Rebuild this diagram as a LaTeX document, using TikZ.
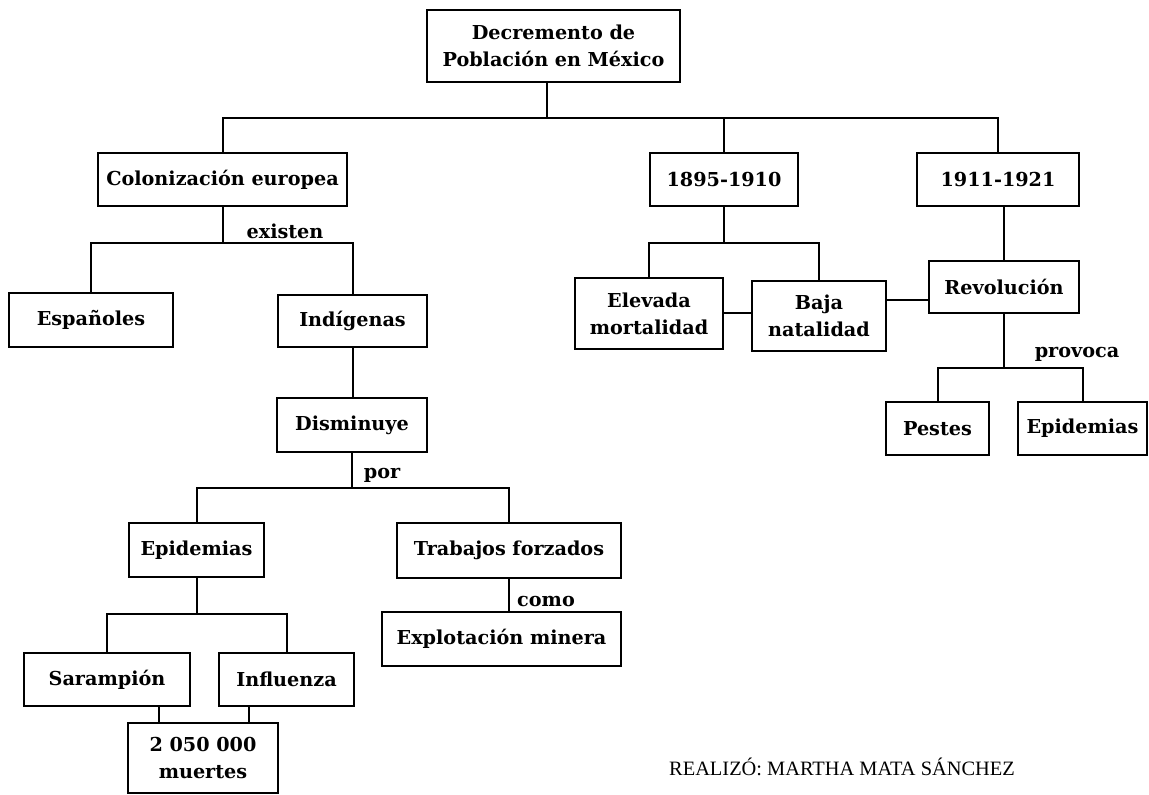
\documentclass[tikz,border=0pt]{standalone}
\usepackage{fontspec}
\setmainfont{DejaVu Serif}
\newfontfamily\creditfont{Liberation Serif}
\usepackage{tikz}

\begin{document}
\begin{tikzpicture}[x=0.5pt, y=0.5pt, line width=1pt,
        box/.style={draw, black, align=center, inner sep=1pt, font=\fontsize{9.6}{13.5}\selectfont\bfseries},
        lbl/.style={inner sep=0pt, font=\fontsize{9.6}{11}\selectfont\bfseries}]
        \useasboundingbox (0,0) rectangle (1149,-795);
        \node [box, minimum width=126.5pt, minimum height=36pt] (root) at (553.5,-46) {Decremento de\\Población en México};
        \node [box, minimum width=124.5pt, minimum height=26.5pt] (colon) at (222.5,-179.5) {Colonización europea};
        \node [box, minimum width=74pt, minimum height=26.5pt] (y1895) at (724,-179.5) {1895-1910};
        \node [box, minimum width=81pt, minimum height=26.5pt] (y1911) at (998,-179.5) {1911-1921};
        \node [box, minimum width=82pt, minimum height=27pt] (esp) at (91,-320) {Españoles};
        \node [box, minimum width=74.5pt, minimum height=26pt] (ind) at (352.5,-321) {Indígenas};
        \node [box, minimum width=75pt, minimum height=27pt] (dism) at (352,-425) {Disminuye};
        \node [box, minimum width=67.5pt, minimum height=27pt] (epi) at (196.5,-550) {Epidemias};
        \node [box, minimum width=112pt, minimum height=27.5pt] (trab) at (509,-550.5) {Trabajos forzados};
        \node [box, minimum width=119.5pt, minimum height=27pt] (expl) at (501.5,-639) {Explotación minera};
        \node [box, minimum width=83pt, minimum height=26.5pt] (sar) at (107,-679.5) {Sarampión};
        \node [box, minimum width=67.5pt, minimum height=26.5pt] (inf) at (286.5,-679.5) {Influenza};
        \node [box, minimum width=75pt, minimum height=35pt] (muertes) at (203,-758) {2 050 000\\muertes};
        \node [box, minimum width=74pt, minimum height=35.5pt] (elev) at (649,-313.5) {Elevada\\mortalidad};
        \node [box, minimum width=67pt, minimum height=35pt] (baja) at (819,-316) {Baja\\natalidad};
        \node [box, minimum width=75pt, minimum height=26pt] (rev) at (1004,-287) {Revolución};
        \node [box, minimum width=51.5pt, minimum height=26.5pt] (pestes) at (937.5,-428.5) {Pestes};
        \node [box, minimum width=64.5pt, minimum height=26.5pt] (epi2) at (1082.5,-428.5) {Epidemias};
        \node [lbl] (lexist) at (285,-231) {existen};
        \node [lbl] (lpor) at (382,-475) {por};
        \node [lbl] (lcomo) at (546,-602) {como};
        \node [lbl] (lprov) at (1077,-354) {provoca};
        \node [font=\creditfont\fontsize{10.2}{12}\selectfont] (autor) at (842,-767) {REALIZÓ: MARTHA MATA SÁNCHEZ};
        \draw ([xshift=-3.5pt]root.south) -- ++(0,-35) coordinate (jroot);
        \draw (jroot) -| (colon.north);
        \draw (jroot) -| (y1895.north);
        \draw (jroot) -| (y1911.north);
        \draw (colon.south) -- ++(0,-36) coordinate (jcol);
        \draw (jcol) -| (esp.north);
        \draw (jcol) -| (ind.north);
        \draw (ind.south) -- (ind.south |- dism.north);
        \draw (dism.south) -- ++(0,-35) coordinate (jdis);
        \draw (jdis) -| (epi.north);
        \draw (jdis) -| (trab.north);
        \draw (trab.south) -- (trab.south |- expl.north);
        \draw (epi.south) -- ++(0,-36) coordinate (jepi);
        \draw (jepi) -| (sar.north);
        \draw (jepi) -| (inf.north);
        \draw ([xshift=-22pt]muertes.north) -- ([xshift=-22pt]muertes.north |- sar.south);
        \draw ([xshift=23pt]muertes.north) -- ([xshift=23pt]muertes.north |- inf.south);
        \draw (y1895.south) -- ++(0,-36) coordinate (j95);
        \draw (j95) -| (elev.north);
        \draw (j95) -| (baja.north);
        \draw (elev.east) -- (elev.east -| baja.west);
        \draw ([yshift=-6.5pt]rev.west) -- ([yshift=-6.5pt]rev.west -| baja.east);
        \draw (rev.north) -- (rev.north |- y1911.south);
        \draw (rev.south) -- ++(0,-54) coordinate (jrev);
        \draw (jrev) -| (pestes.north);
        \draw (jrev) -| (epi2.north);
\end{tikzpicture}
\end{document}
